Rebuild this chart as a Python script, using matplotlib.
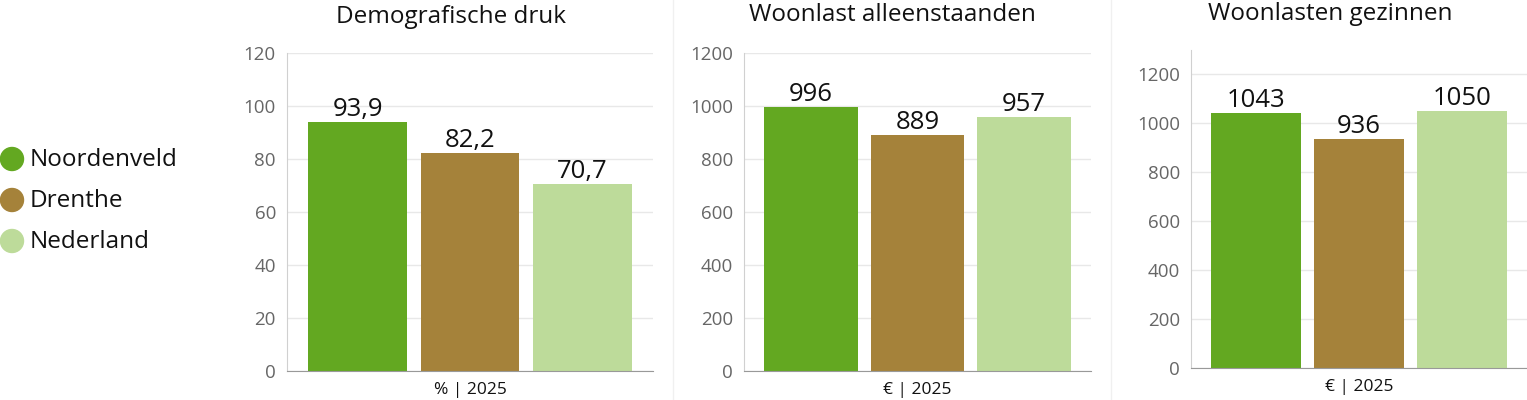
import matplotlib.pyplot as plt
from matplotlib.patches import Ellipse

W, H = 1527, 400

regions = ["Noordenveld", "Drenthe", "Nederland"]
colors = ["#63a821", "#a5823a", "#bddb9a"]

titles = ["Demografische druk", "Woonlast alleenstaanden", "Woonlasten gezinnen"]
units = ["% | 2025", "€ | 2025", "€ | 2025"]
demo_druk = [93.9, 82.2, 70.7]
woonlast_alleen = [996, 889, 957]
woonlast_gezin = [1043, 936, 1050]
label_fmt = ["{:.1f}", "{:.0f}", "{:.0f}"]

y_limits = [(0, 120), (0, 1200), (0, 1300)]
y_ticks = [range(0, 121, 20), range(0, 1201, 200), range(0, 1201, 200)]

# axes boxes in pixels: left, right, top, bottom
boxes = [(287, 653, 53, 371), (744, 1091, 53, 371), (1191, 1527, 50, 368)]
title_x = [451, 892, 1330]
title_y = [17, 15, 14]
seps = [673, 1111]

plt.rcParams['font.family'] = ['Open Sans', 'DejaVu Sans']

fig = plt.figure(figsize=(W / 100, H / 100), dpi=100)


def px_axes(left, right, top, bottom):
    return fig.add_axes([left / W, 1 - bottom / H, (right - left) / W, (bottom - top) / H])


series = [demo_druk, woonlast_alleen, woonlast_gezin]
for i, vals in enumerate(series):
    l, r, t, b = boxes[i]
    ax = px_axes(l, r, t, b)
    x = range(len(vals))
    ax.bar(x, vals, width=0.88, color=colors, zorder=2)
    ax.set_xlim(-0.63, 2.63)
    ax.set_ylim(*y_limits[i])
    ax.set_yticks(list(y_ticks[i]))
    ax.yaxis.grid(True, color="#e8e8e8", linewidth=1, zorder=0)
    ax.set_axisbelow(True)
    ax.set_xticks([])
    for s in ["top", "right"]:
        ax.spines[s].set_visible(False)
    ax.spines["left"].set_color("#d0d0d0")
    ax.spines["bottom"].set_color("#999999")
    ax.tick_params(axis="y", length=0, pad=8, labelsize=13.5, labelcolor="#666666")
    for xi, v in zip(x, vals):
        txt = label_fmt[i].format(v).replace(".", ",")
        ax.annotate(txt, (xi, v), xytext=(0, 0), textcoords="offset points",
                    ha="center", va="bottom", fontsize=18.5, color="#111111")
    ax.set_xlabel(units[i], fontsize=12.5, color="#111111", labelpad=8)
    fig.text(title_x[i] / W, 1 - title_y[i] / H, titles[i], ha="center", va="center",
             fontsize=17.5, color="#111111")

# faint panel separators
for sx in seps:
    fig.add_artist(plt.Line2D([sx / W, sx / W], [0, 1], color="#f0f0f0", linewidth=1))

# legend on the left
leg_y = [159, 200, 241]
for name, c, yy in zip(regions, colors, leg_y):
    fig.add_artist(Ellipse((12 / W, 1 - yy / H), 23 / W, 23 / H, color=c,
                           transform=fig.transFigure))
    fig.text(30 / W, 1 - (yy + 1) / H, name, ha="left", va="center", fontsize=17.5,
             color="#111111")

plt.savefig("out.png", dpi=100)
